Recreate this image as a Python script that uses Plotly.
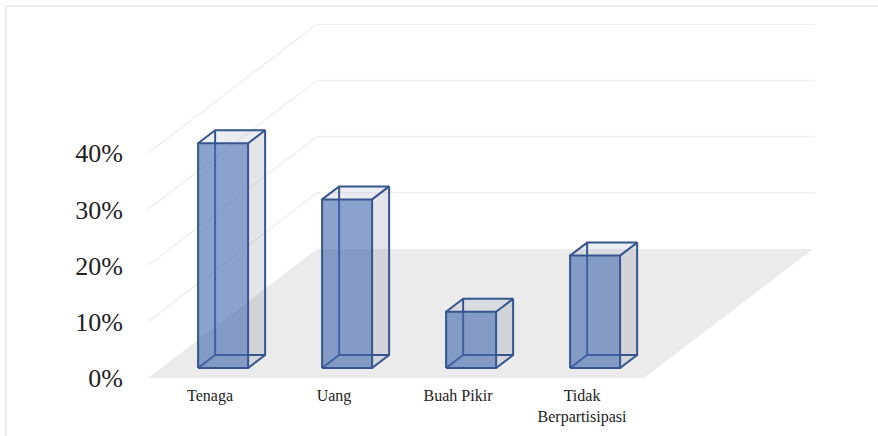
import plotly.graph_objects as go

categories = ["Tenaga", "Uang", "Buah Pikir", "Tidak<br>Berpartisipasi"]
values = [40, 30, 10, 20]
value_ticks = [0, 10, 20, 30, 40]
value_labels = ["0%", "10%", "20%", "30%", "40%"]

# oblique projection of the 3D chart box, in axis units
DEPTH_X = 169 / 124
DEPTH_Y = 129 / 5.62
BAR_HALF = 25 / 124
BAR_NEAR = 10 / 129
BAR_FAR = 23 / 129
BAND_LO, BAND_HI = -0.5, len(categories) - 0.5
X_END = (815 - 210) / 124
Y_END = (378 - 24) / 5.62

GRID = "#f0f0f0"
FLOOR = "#ebebeb"
EDGE = "#34558f"
FRONT = "rgba(68,105,175,0.62)"
SIDE = "rgba(100,110,140,0.18)"
TOP = "rgba(120,130,170,0.14)"


def project(cat, val, depth):
    return cat + depth * DEPTH_X, val + depth * DEPTH_Y


def poly(points, fill=None, line=None, width=2):
    xs, ys = zip(*[project(*p) for p in points])
    return go.Scatter(
        x=list(xs) + [xs[0]] if fill else list(xs),
        y=list(ys) + [ys[0]] if fill else list(ys),
        mode="lines",
        fill="toself" if fill else None,
        fillcolor=fill,
        line=dict(color=line or "rgba(0,0,0,0)", width=width if line else 0),
        hoverinfo="skip",
        showlegend=False,
    )


fig = go.Figure()

# floor
fig.add_trace(poly([(BAND_LO, 0, 0), (BAND_HI, 0, 0), (BAND_HI, 0, 1), (BAND_LO, 0, 1)], fill=FLOOR))

# side and back wall gridlines
for v in value_ticks[1:]:
    trace = poly([(BAND_LO, v, 0), (BAND_LO, v, 1)], line=GRID, width=1.5)
    trace.x = list(trace.x) + [X_END]
    trace.y = list(trace.y) + [trace.y[-1]]
    fig.add_trace(trace)

# bars
for i, v in enumerate(values):
    l, r = i - BAR_HALF, i + BAR_HALF
    n, f = BAR_NEAR, BAR_FAR
    fig.add_trace(poly([(r, 0, n), (r, 0, f), (r, v, f), (r, v, n)], fill=SIDE))
    fig.add_trace(poly([(l, v, n), (r, v, n), (r, v, f), (l, v, f)], fill=TOP))
    # far edges
    fig.add_trace(poly([(l, v, f), (l, 0, f), (r, 0, f)], line=EDGE))
    fig.add_trace(poly([(l, 0, n), (l, 0, f)], line=EDGE))
    # right side and top edges
    fig.add_trace(poly([(r, 0, n), (r, 0, f), (r, v, f), (r, v, n)], line=EDGE))
    fig.add_trace(poly([(l, v, n), (l, v, f), (r, v, f)], line=EDGE))
    # front face
    fig.add_trace(poly([(l, 0, n), (r, 0, n), (r, v, n), (l, v, n)], fill=FRONT))
    fig.add_trace(poly([(l, 0, n), (r, 0, n), (r, v, n), (l, v, n), (l, 0, n)], line=EDGE))

fig.update_layout(
    width=878,
    height=436,
    margin=dict(l=148, r=63, t=24, b=58, pad=0, autoexpand=False),
    paper_bgcolor="white",
    plot_bgcolor="rgba(0,0,0,0)",
    showlegend=False,
    xaxis=dict(
        range=[BAND_LO, X_END],
        automargin=False,
        tickmode="array",
        tickvals=list(range(len(categories))),
        ticktext=categories,
        tickangle=0,
        showgrid=False,
        zeroline=False,
        showline=False,
        ticks="outside",
        ticklen=3,
        tickcolor="rgba(0,0,0,0)",
        tickfont=dict(family="Liberation Serif", size=16, color="#222222"),
    ),
    yaxis=dict(
        range=[0, Y_END],
        automargin=False,
        tickmode="array",
        tickvals=value_ticks,
        ticktext=value_labels,
        showgrid=False,
        zeroline=False,
        showline=False,
        ticks="outside",
        ticklen=19,
        tickcolor="rgba(0,0,0,0)",
        tickfont=dict(family="Liberation Serif", size=26, color="#222222"),
    ),
    shapes=[
        dict(type="line", xref="paper", yref="paper",
             x0=(6 - 148) / 667, x1=(878 - 148) / 667, y0=(378 - 6) / 354, y1=(378 - 6) / 354,
             line=dict(color="#d9d9d9", width=1)),
        dict(type="line", xref="paper", yref="paper",
             x0=(6 - 148) / 667, x1=(6 - 148) / 667, y0=(378 - 6) / 354, y1=(378 - 436) / 354,
             line=dict(color="#d9d9d9", width=1)),
    ],
)

fig.write_html("out.html", config={"displayModeBar": False},
               post_script="document.body.style.margin='0';")
